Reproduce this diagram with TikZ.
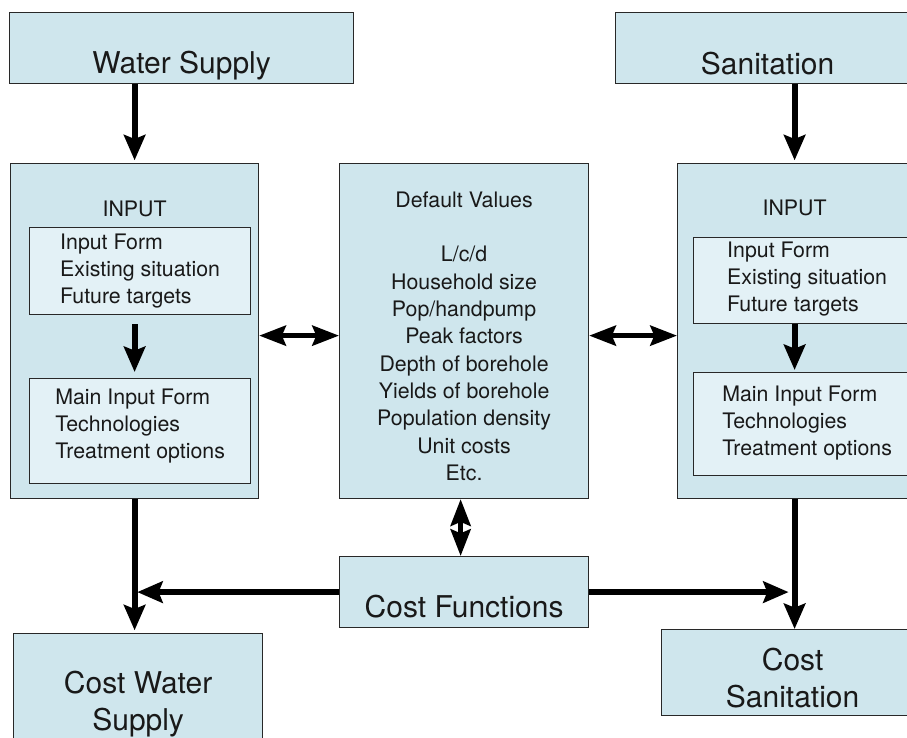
\documentclass[tikz,border=0pt]{standalone}
\usepackage{fontspec}
\setmainfont{TeX Gyre Heros}
\usetikzlibrary{arrows.meta,calc,positioning}
\definecolor{boxfill}{RGB}{207,230,237}
\definecolor{innerfill}{RGB}{227,241,246}
\definecolor{boxline}{RGB}{40,40,40}
\definecolor{boxtext}{RGB}{25,25,25}
\tikzset{
    mybox/.style={draw=boxline,fill=boxfill,line width=0.9pt,anchor=north west,
      inner xsep=0pt,inner ysep=0pt,align=center,text=boxtext},
    myinner/.style={mybox,fill=innerfill,align=left},
    bigtext/.style={font=\fontsize{22.5}{27.5}\selectfont},
    smalltext/.style={font=\fontsize{16}{20.25}\selectfont},
    myarrow/.style={-{Stealth[length=19pt,width=16pt,inset=3pt]},line width=4.5pt,black},
    mybiarrow/.style={{Stealth[length=20pt,width=15pt,inset=3pt]}-{Stealth[length=20pt,width=15pt,inset=3pt]},
      line width=3.75pt,black}
}
\begin{document}
\begin{tikzpicture}[x=0.75pt,y=-0.75pt]
  \useasboundingbox (0,0) rectangle (907,738);
  \node[mybox,bigtext,minimum width=258pt,text height=46pt,text depth=7.3pt] (ws) at (9,12) {Water Supply};
  \node[mybox,bigtext,minimum width=228pt,text height=46.5pt,text depth=6.75pt] (san) at (615,12) {Sanitation};
  \node[mybox,smalltext,minimum width=186pt,text height=39.75pt,text depth=211.5pt] (inL) at (10,163) {INPUT};
  \node[myinner,smalltext,minimum width=165.75pt,text height=57.2pt,text depth=8pt] (inL1) at (29,227)
    {Input Form\\Existing situation\\Future targets};
  \node[myinner,smalltext,minimum width=165.75pt,text height=60pt,text depth=18.75pt] (inL2) at (29,378)
    {Main Input Form\\Technologies\\Treatment options};
  \node[mybox,smalltext,minimum width=175.5pt,text height=39pt,text depth=212.25pt] (inR) at (677,163) {INPUT};
  \node[myinner,smalltext,minimum width=170.25pt,text height=55.3pt,text depth=9.2pt] (inR1) at (693,237)
    {Input Form\\Existing situation\\Future targets};
  \node[myinner,smalltext,minimum width=170.25pt,text height=62.25pt,text depth=15pt] (inR2) at (693,372)
    {Main Input Form\\Technologies\\Treatment options};
  \node[mybox,font=\fontsize{16}{20.5}\selectfont,minimum width=186.75pt,text height=237.75pt,text depth=13.5pt] (dv) at (339,163)
    {Default Values\\[20.5pt]L/c/d\\Household size\\Pop/handpump\\Peak factors\\Depth of borehole\\Yields of borehole\\Population density\\Unit costs\\Etc.};
  \node[mybox,bigtext,minimum width=186.75pt,text height=45.75pt,text depth=7.5pt] (cf) at (339,556) {Cost Functions};
  \node[mybox,bigtext,minimum width=186.75pt,text height=72.75pt,text depth=22.5pt] (cws) at (13,633) {Cost Water\\Supply};
  \node[mybox,bigtext,minimum width=196.5pt,text height=58.3pt,text depth=6.2pt] (csan) at (661,629) {Cost\\Sanitation};
  \draw[myarrow,shorten >=2pt] (inL.north |- ws.south) -- (inL.north);
  \draw[myarrow,shorten >=2pt] (inR.north |- san.south) -- (inR.north);
  \draw[myarrow,shorten <=6.75pt,shorten >=4.5pt] (inL1.south -| inL.north) -- (inL2.north -| inL.north);
  \draw[myarrow,shorten >=1.5pt] (inR1.south -| inR.north) -- (inR2.north -| inR.north);
  \draw[mybiarrow] ([yshift=-3.4pt]inL.east) -- ([yshift=-3.4pt]dv.west);
  \draw[mybiarrow] ([yshift=-3.4pt]dv.east) -- ([yshift=-3.4pt]inR.west);
  \draw[mybiarrow] ([xshift=-2.6pt]dv.south) -- ([xshift=-2.6pt]cf.north);
  \draw[myarrow,shorten >=2pt] (inL.south) -- (inL.south |- cws.north);
  \draw[myarrow] (inR.south) -- (inR.south |- csan.north);
  \draw[myarrow,shorten >=2pt] (cf.west) -- (cf.west -| inL.south);
  \draw[myarrow,shorten >=4.5pt] (cf.east) -- (cf.east -| inR.south);
\end{tikzpicture}
\end{document}
